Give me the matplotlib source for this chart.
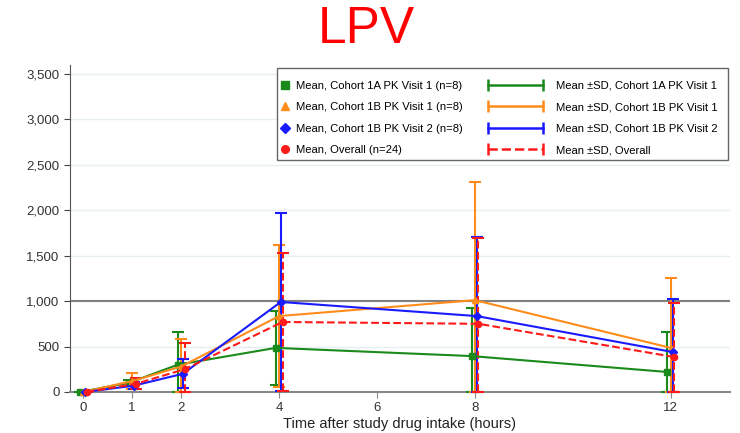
import matplotlib
matplotlib.use("Agg")
import matplotlib.pyplot as plt
from matplotlib.lines import Line2D
from matplotlib.legend_handler import HandlerLine2D
from matplotlib.patches import Rectangle
from matplotlib.ticker import FuncFormatter

plt.rcParams['font.family'] = ['Liberation Sans', 'DejaVu Sans']

# sampling times (hours)
times = [0, 1, 2, 4, 8, 12]

# mean and SD concentration per group
mean_1a_v1 = [0, 100, 300, 485, 395, 220]
sd_1a_v1 = [0, 30, 360, 410, 525, 440]
mean_1b_v1 = [0, 120, 280, 835, 1010, 485]
sd_1b_v1 = [0, 90, 300, 780, 1300, 765]
mean_1b_v2 = [0, 70, 200, 990, 835, 440]
sd_1b_v2 = [0, 40, 160, 975, 865, 580]
mean_all = [0, 90, 250, 770, 750, 385]
sd_all = [0, 60, 290, 755, 940, 590]

series = [
    ("Cohort 1A PK Visit 1", "(n=8)", mean_1a_v1, sd_1a_v1, "#1a8a1a", "s", "-", -0.07),
    ("Cohort 1B PK Visit 1", "(n=8)", mean_1b_v1, sd_1b_v1, "#ff8c1a", "^", "-", 0.0),
    ("Cohort 1B PK Visit 2", "(n=8)", mean_1b_v2, sd_1b_v2, "#1a1aff", "D", "-", 0.035),
    ("Overall", "(n=24)", mean_all, sd_all, "#ff1a1a", "o", "--", 0.07),
]

fig = plt.figure(figsize=(7.4, 4.33), dpi=100)
ax = fig.add_axes([0.0946, 0.0947, 0.8914, 0.756])

mark_handles, bar_handles = [], []
for name, n_txt, mean, sd, color, marker, ls, dx in series:
    xs = [t + dx for t in times]
    lower = [min(m, s) for m, s in zip(mean, sd)]  # clip at zero
    eb = ax.errorbar(xs, mean, yerr=[lower, sd], color=color, lw=1.5, ls=ls,
                     marker=marker, ms=4.5, capsize=4.5, capthick=1.5,
                     elinewidth=1.5, zorder=3)
    for art in eb.lines[1] + eb.lines[2]:
        art.set_clip_on(False)
    eb.lines[0].set_clip_on(False)
    if ls == "--":
        eb.lines[2][0].set_linestyle("--")
    mark_handles.append(Line2D([], [], color=color, marker=marker, ls="none",
                               ms=5.5, label=f"Mean, {name} {n_txt}"))
    bar_handles.append(Line2D([], [], color=color, lw=1.8, ls=ls, marker="|",
                              ms=9, mew=1.8, label=f"Mean \u00b1SD, {name}"))

ax.axhline(1000, color="#808080", lw=1.5, zorder=2)
ax.set_xlim(-0.27, 13.2)
ax.set_ylim(0, 3600)
ax.set_xticks([0, 1, 2, 4, 6, 8, 12])
ax.set_yticks(range(0, 3501, 500))
ax.yaxis.set_major_formatter(FuncFormatter(lambda v, p: f"{int(v):,}"))
ax.grid(axis="y", color="#e6eef2", lw=1.0, zorder=0)
ax.set_axisbelow(True)
for side in ("top", "right"):
    ax.spines[side].set_visible(False)
ax.spines["left"].set_color("#555555")
ax.spines["bottom"].set_color("#888888")
ax.spines["bottom"].set_linewidth(1.5)
ax.tick_params(axis="y", colors="#444444", labelsize=9.5, length=4, labelcolor="#333333")
ax.tick_params(axis="x", colors="#888888", labelsize=9.5, length=4, labelcolor="#333333")
ax.set_xlabel("Time after study drug intake (hours)", fontsize=10.5, color="#222222", labelpad=2)

# legend: marker column and SD-bar column inside one frame
frame = Rectangle((0.314, 0.708), 0.683, 0.281, transform=ax.transAxes,
                  facecolor="white", edgecolor="#666666", lw=1.0, zorder=5)
ax.add_patch(frame)
leg1 = ax.legend(handles=mark_handles, loc="upper left", bbox_to_anchor=(0.307, 0.975),
                 frameon=False, fontsize=8.1, handlelength=0.8, handletextpad=0.6,
                 labelspacing=1.02, borderaxespad=0.3,
                 handler_map={Line2D: HandlerLine2D(numpoints=1)})
leg1.set_zorder(6)
ax.add_artist(leg1)
leg2 = ax.legend(handles=bar_handles, loc="upper left", bbox_to_anchor=(0.617, 0.975),
                 frameon=False, fontsize=8.1, handlelength=5.5, handletextpad=0.8,
                 labelspacing=1.02, borderaxespad=0.3,
                 handler_map={Line2D: HandlerLine2D(numpoints=2)})
leg2.set_zorder(6)

fig.text(0.495, 0.932, "LPV", color="#ff0000", fontsize=37, ha="center", va="center")

fig.savefig("out.png", dpi=100)
